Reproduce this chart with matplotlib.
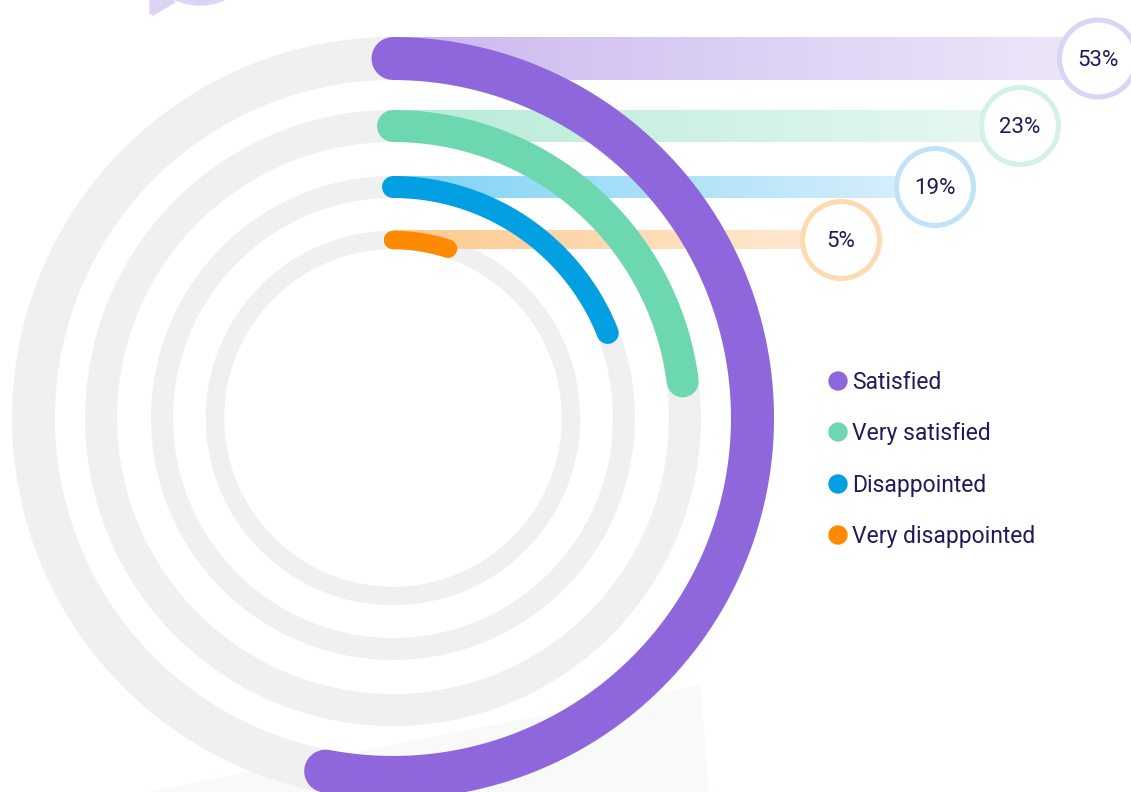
import numpy as np
import matplotlib.pyplot as plt
from matplotlib.patches import Circle, Polygon, Ellipse
from matplotlib.colors import to_rgba

# survey answers, outer ring first
labels = ['Satisfied', 'Very satisfied', 'Disappointed', 'Very disappointed']
values = [53, 23, 19, 5]
pct_text = ['53%', '23%', '19%', '5%']

colors = ['#8f67dd', '#6dd8b0', '#02a0e3', '#ff8a00']
bar_left = ['#cab8ef', '#b6ebd7', '#7dd3f4', '#fdc98e']
bar_right = ['#eee8fa', '#e8f8f2', '#dcf0fc', '#ffebd6']
ring_cols = ['#ddd3f5', '#d3f1e6', '#c0e3f9', '#fddab0']

# ring geometry in pixels
cx, cy = 393, 418
radii = [359.5, 292, 231, 178]
widths = [43, 32, 22, 18.5]
label_x = [1098, 1020, 935, 841]

navy = '#1e1b5c'
track = '#f0f0f0'
px = 0.72  # pixel -> point at dpi 100

plt.rcParams['font.family'] = ['Roboto', 'DejaVu Sans']

fig = plt.figure(figsize=(11.31, 7.92), dpi=100)
ax = fig.add_axes([0, 0, 1, 1])
ax.set_xlim(0, 1131)
ax.set_ylim(792, 0)
ax.set_aspect('equal')
ax.axis('off')

# decorative bits
ax.add_patch(Ellipse((200, -45), 110, 100, color='#ddd3f5', zorder=0))
ax.add_patch(Polygon([(150, -5), (150, 13), (153, 15), (175, 2), (165, -5)],
                     closed=True, color='#ddd3f5', zorder=0))
ax.add_patch(Polygon([(150, 792), (700, 686), (708, 792)], closed=True,
                     color='#f8faf9', zorder=0))

theta_full = np.linspace(0, 2 * np.pi, 720)

for i, v in enumerate(values):
    r, w = radii[i], widths[i]

    # grey track
    ax.plot(cx + r * np.sin(theta_full), cy - r * np.cos(theta_full),
            color=track, lw=w * px, zorder=1, solid_capstyle='butt')

    # gradient bar towards the label
    grad = np.zeros((1, 256, 4))
    c0, c1 = np.array(to_rgba(bar_left[i])), np.array(to_rgba(bar_right[i]))
    t = np.linspace(0, 1, 256)[:, None]
    grad[0] = c0 + (c1 - c0) * t
    ax.imshow(grad, extent=(cx, label_x[i], cy - r + w / 2, cy - r - w / 2),
              aspect='auto', zorder=2, interpolation='bilinear')

    # value arc, clockwise from the top
    th = np.linspace(0, v / 100 * 2 * np.pi, 400)
    ax.plot(cx + r * np.sin(th), cy - r * np.cos(th), color=colors[i],
            lw=w * px, solid_capstyle='round', zorder=3 + (len(values) - i) * 0.01)

    # percentage bubble
    ax.add_patch(Circle((label_x[i], cy - r), 38.5, facecolor='white',
                        edgecolor=ring_cols[i], lw=5 * px, zorder=4))
    ax.text(label_x[i], cy - r + 1.5, pct_text[i], ha='center', va='center',
            fontsize=16, color=navy, zorder=5)

# legend
leg_y = [381, 432, 484, 535]
for i, lab in enumerate(labels):
    ax.add_patch(Circle((838, leg_y[i]), 9, color=colors[i], zorder=5))
    ax.text(852, leg_y[i] + 1.5, lab, ha='left', va='center', fontsize=16.5,
            color=navy, zorder=5)

fig.savefig('out.png', dpi=100)
